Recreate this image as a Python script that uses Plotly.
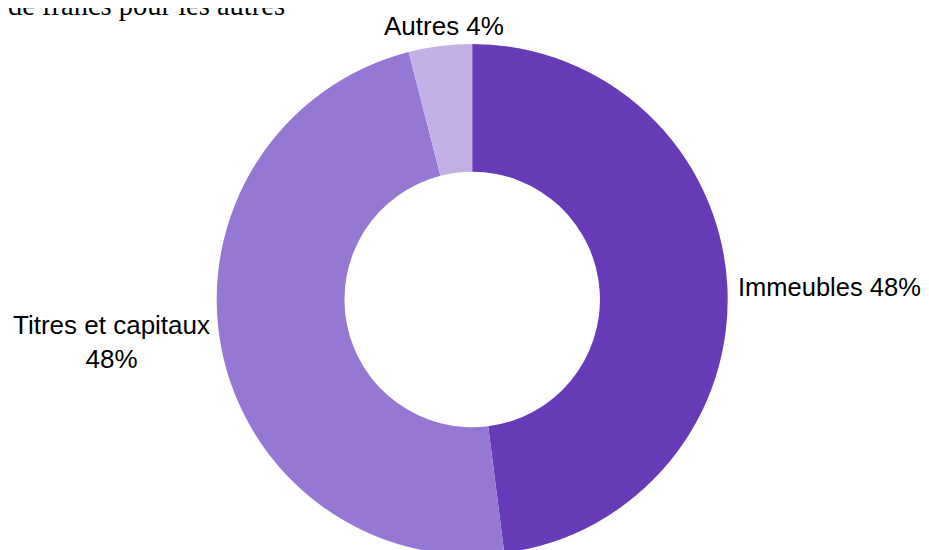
import plotly.graph_objects as go

labels = ["Immeubles", "Titres et capitaux", "Autres"]
values = [48, 48, 4]
colors = ["#673AB7", "#9777D4", "#C3B1E5"]
title_tail = "de francs pour les autres"

W, H = 929, 550
cx, cy, r = 464.2, 291.5, 255.5   # pie centre / radius in figure pixels

total = sum(values)
pct = [f"{round(100 * v / total)}%" for v in values]

fig = go.Figure(go.Pie(
    labels=labels,
    values=values,
    hole=0.5,
    sort=False,
    direction="clockwise",
    rotation=0,
    marker=dict(colors=colors, line=dict(width=0)),
    textinfo="none",
    hoverinfo="label+percent",
    showlegend=False,
    domain=dict(x=[(cx - r) / W, (cx + r) / W], y=[(H - cy - r) / H, (H - cy + r) / H]),
))

lab_font = dict(family="Liberation Sans, Arial, sans-serif", size=26, color="#000000")
# label anchors (paper coords)
fig.add_annotation(text=f"{labels[0]} {pct[0]}", x=727.5 / W, y=(H - 279.0) / H,
                   xanchor="left", yanchor="middle",
                   font=dict(family="Liberation Sans, Arial, sans-serif", size=25.5, color="#000000"))
fig.add_annotation(text=f"{labels[1]}<br>{pct[1]}", x=103.7 / W, y=(H - 333.5) / H,
                   xanchor="center", yanchor="middle", align="center", font=lab_font)
fig.add_annotation(text=f"{labels[2]} {pct[2]}", x=435.5 / W, y=(H - 18) / H,
                   xanchor="center", yanchor="middle", font=lab_font)
fig.update_annotations(xref="paper", yref="paper", showarrow=False)

fig.add_annotation(
    text=title_tail, xref="paper", yref="paper", x=0, y=1,
    xanchor="left", yanchor="bottom", yshift=-15, xshift=-2, showarrow=False,
    font=dict(family="Liberation Serif, Times New Roman, serif", size=28.5, color="#000000"),
)

fig.update_layout(
    width=W, height=H,
    margin=dict(l=0, r=0, t=0, b=0),
    paper_bgcolor="white", plot_bgcolor="white",
)

fig.write_html("out.html")
